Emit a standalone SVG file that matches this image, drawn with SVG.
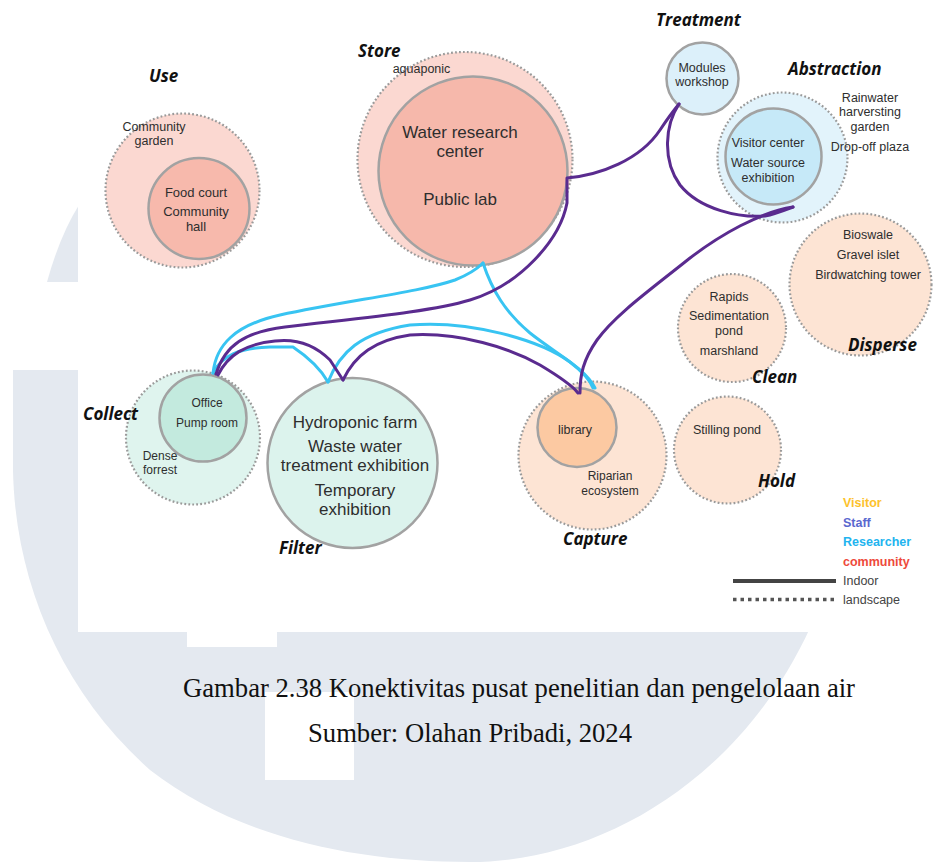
<svg xmlns="http://www.w3.org/2000/svg" width="933" height="862" viewBox="0 0 933 862">
  <style>
    .wm { fill: #e4e9f0; }
    .outer { stroke: #9a9a9a; stroke-width: 2.2; stroke-dasharray: 1.8 2.2; }
    .inner { stroke: #a2a2a2; stroke-width: 2.5; }
    .txt { font-family: "Liberation Sans", Arial, sans-serif; fill: #2e2e2e; text-anchor: middle; }
    .lbl { font-family: "Open Sans", "DejaVu Sans", sans-serif; font-weight: 700; font-style: italic; fill: #111; font-size: 17px; }
    .leg { font-family: "Liberation Sans", Arial, sans-serif; font-size: 12.5px; }
    .cap { font-family: "Liberation Serif", "Times New Roman", serif; font-size: 26.5px; fill: #111; }
    .staff { fill: none; stroke: #5a2b8f; stroke-width: 3; stroke-linecap: round; stroke-linejoin: round; }
    .res { fill: none; stroke: #38c4f2; stroke-width: 3; stroke-linecap: round; stroke-linejoin: round; }
  </style>

  <rect width="933" height="862" fill="#ffffff"/>

  <!-- watermark -->
  <g id="watermark">
    <path class="wm" d="M13,370 L13,470 C15,580 60,690 150,770 C240,840 360,862 470,862 C600,862 740,780 810,628 L810,300 L13,300 Z"/>
    <path class="wm" d="M79,205 Q60,235 47,282 L79,282 Z"/>
    <rect x="0" y="282" width="79" height="88" fill="#ffffff"/>
    <rect x="187" y="620" width="90" height="27" fill="#ffffff"/>
    <rect x="265" y="692" width="89" height="88" fill="#ffffff"/>
  </g>

  <!-- diagram sheet -->
  <rect x="78" y="0" width="855" height="632" fill="#ffffff"/>

  <!-- Use -->
  <g id="use">
    <circle class="outer" cx="182.5" cy="190.5" r="77" fill="#fbd8d1"/>
    <circle class="inner" cx="199" cy="208.5" r="50.5" fill="#f7b9ac"/>
    <text class="lbl" x="149" y="82">Use</text>
    <text class="txt" font-size="12.5" x="154" y="131">Community<tspan x="154" dy="14">garden</tspan></text>
    <text class="txt" font-size="13" x="196" y="197">Food court<tspan x="196" dy="19">Community</tspan><tspan x="196" dy="15">hall</tspan></text>
  </g>

  <!-- Store -->
  <g id="store">
    <circle class="outer" cx="465" cy="159.5" r="107.5" fill="#fbd8d1"/>
    <circle class="inner" cx="473" cy="171" r="94.5" fill="#f6b8ab"/>
    <text class="lbl" x="358" y="57">Store</text>
    <text class="txt" font-size="12.5" x="421.5" y="73">aquaponic</text>
    <text class="txt" font-size="17" x="460" y="138">Water research<tspan x="460" dy="19">center</tspan><tspan x="460" dy="48">Public lab</tspan></text>
  </g>

  <!-- Treatment -->
  <g id="treatment">
    <circle class="inner" cx="702.5" cy="78.5" r="36" fill="#dcf0fa"/>
    <text class="lbl" x="656" y="26">Treatment</text>
    <text class="txt" font-size="12.5" x="702" y="72">Modules<tspan x="702" dy="14">workshop</tspan></text>
  </g>

  <!-- Abstraction -->
  <g id="abstraction">
    <circle class="outer" cx="782.5" cy="157.5" r="65" fill="#e2f3fb"/>
    <circle class="inner" cx="773.5" cy="156.5" r="48" fill="#c6e9f8"/>
    <text class="lbl" x="788" y="75">Abstraction</text>
    <text class="txt" font-size="12.5" x="870" y="102">Rainwater<tspan x="870" dy="14">harversting</tspan><tspan x="870" dy="15">garden</tspan><tspan x="870" dy="20">Drop-off plaza</tspan></text>
    <text class="txt" font-size="12.5" x="768" y="147">Visitor center<tspan x="768" dy="20">Water source</tspan><tspan x="768" dy="15">exhibition</tspan></text>
  </g>

  <!-- Disperse -->
  <g id="disperse">
    <circle class="outer" cx="860.5" cy="284.5" r="71" fill="#fde4d4"/>
    <text class="txt" font-size="12.5" x="868" y="239">Bioswale<tspan x="868" dy="20">Gravel islet</tspan><tspan x="868" dy="20">Birdwatching tower</tspan></text>
    <text class="lbl" x="848" y="351">Disperse</text>
  </g>

  <!-- Clean -->
  <g id="clean">
    <circle class="outer" cx="732" cy="328" r="54" fill="#fde4d4"/>
    <text class="txt" font-size="12.5" x="729" y="301">Rapids<tspan x="729" dy="19">Sedimentation</tspan><tspan x="729" dy="15">pond</tspan><tspan x="729" dy="20">marshland</tspan></text>
    <text class="lbl" x="752" y="383">Clean</text>
  </g>

  <!-- Hold -->
  <g id="hold">
    <circle class="outer" cx="727.5" cy="450" r="53.5" fill="#fde4d4"/>
    <text class="txt" font-size="12.5" x="727" y="434">Stilling pond</text>
    <text class="lbl" x="758" y="487">Hold</text>
  </g>

  <!-- Collect -->
  <g id="collect">
    <circle class="outer" cx="193" cy="437.5" r="67" fill="#dff4ee"/>
    <circle class="inner" cx="203" cy="418" r="43.5" fill="#c3eade"/>
    <text class="lbl" x="83" y="420">Collect</text>
    <text class="txt" font-size="12" x="207" y="407">Office<tspan x="207" dy="20">Pump room</tspan></text>
    <text class="txt" font-size="12" x="160" y="460">Dense<tspan x="160" dy="14">forrest</tspan></text>
  </g>

  <!-- Filter -->
  <g id="filter">
    <circle class="inner" cx="352.5" cy="463" r="85" fill="#dcf3ed"/>
    <text class="txt" font-size="17" x="355" y="428">Hydroponic farm<tspan x="355" dy="24">Waste water</tspan><tspan x="355" dy="19">treatment exhibition</tspan><tspan x="355" dy="25">Temporary</tspan><tspan x="355" dy="19">exhibition</tspan></text>
    <text class="lbl" x="279" y="554">Filter</text>
  </g>

  <!-- Capture -->
  <g id="capture">
    <circle class="outer" cx="592.5" cy="455.5" r="74" fill="#fde4d4"/>
    <circle class="inner" cx="577" cy="427.5" r="39.5" fill="#fcc9a2"/>
    <text class="txt" font-size="12.5" x="575" y="434">library</text>
    <text class="txt" font-size="12" x="610" y="480">Riparian<tspan x="610" dy="15">ecosystem</tspan></text>
    <text class="lbl" x="563" y="545">Capture</text>
  </g>

  <!-- connectors -->
  <g id="connectors">
    <!-- researcher routes -->
    <path class="res" d="M213,373 C216,345 235,325 280,315 C350,300 420,292 455,280 C470,274 478,268 483,263"/>
    <path class="res" d="M483,263 C492,290 505,312 530,333 C555,353 585,368 595,388"/>
    <path class="res" d="M328,382 C340,352 360,333 410,325 C470,320 540,340 570,362 C583,372 590,380 593,388"/>
    <path class="res" d="M213,373 C222,355 240,348 270,347 L293,347 C305,355 320,368 328,382"/>
    <!-- staff routes -->
    <path class="staff" d="M216,374 C225,345 245,332 285,327 C360,318 430,312 470,300 C520,285 560,240 567,203 L567,178 C600,175 640,160 660,130 C668,118 674,110 679,104"/>
    <path class="staff" d="M679,104 C665,125 662,160 680,185 C700,210 740,218 765,216 C775,214 785,210 793,207"/>
    <path class="staff" d="M793,207 C760,212 720,235 690,258 C650,290 615,315 597,340 C583,360 580,375 580,393"/>
    <path class="staff" d="M343,380 C355,355 375,340 410,335 C460,332 510,348 540,365 C560,377 572,385 578,393"/>
    <path class="staff" d="M218,375 C228,355 245,344 275,341 C300,338 318,348 330,360 L343,380"/>
  </g>

  <!-- legend -->
  <g id="legend">
    <text class="leg" x="843" y="507" fill="#fdc22c" font-weight="700">Visitor</text>
    <text class="leg" x="843" y="527" fill="#5a68cf" font-weight="700">Staff</text>
    <text class="leg" x="843" y="546" fill="#22b4ef" font-weight="700">Researcher</text>
    <text class="leg" x="843" y="566" fill="#ee4a3b" font-weight="700">community</text>
    <line x1="733" y1="581" x2="836" y2="581" stroke="#444" stroke-width="4"/>
    <line x1="733" y1="599.5" x2="836" y2="599.5" stroke="#555" stroke-width="3.5" stroke-dasharray="3.5 4"/>
    <text class="leg" x="843" y="585" fill="#444">Indoor</text>
    <text class="leg" x="843" y="604" fill="#444">landscape</text>
  </g>

  <!-- caption -->
  <g id="caption">
    <text class="cap" x="183" y="697" textLength="672" lengthAdjust="spacingAndGlyphs">Gambar 2.38 Konektivitas pusat penelitian dan pengelolaan air</text>
    <text class="cap" x="308" y="742" textLength="324" lengthAdjust="spacingAndGlyphs">Sumber: Olahan Pribadi, 2024</text>
  </g>
</svg>
